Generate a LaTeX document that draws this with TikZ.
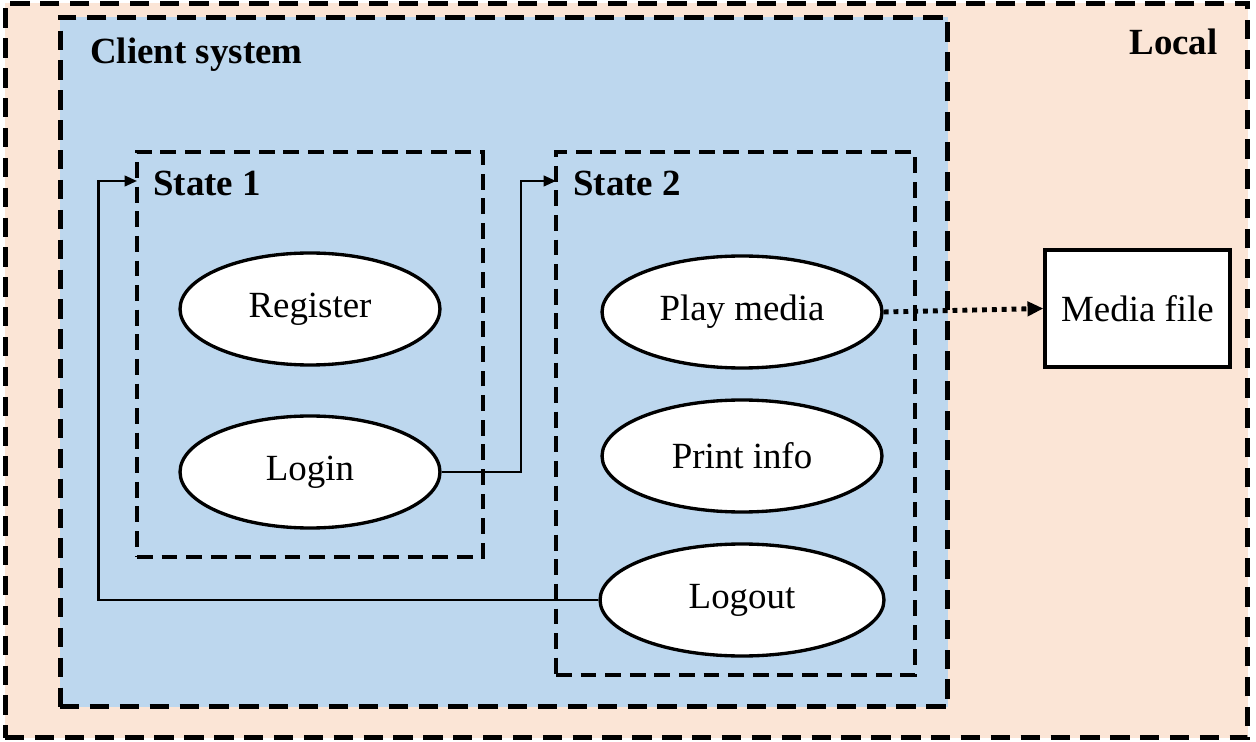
\documentclass[tikz,border=0pt]{standalone}
\usepackage{fontspec}
\setmainfont{Liberation Serif}
\usepackage{tikz}
\usetikzlibrary{arrows.meta,shapes,positioning}

\definecolor{localfill}{HTML}{FBE5D6}
\definecolor{clientfill}{HTML}{BDD7EE}

\tikzset{
    area/.style={draw,line width=2.9pt,dash pattern=on 11pt off 6pt,inner sep=0pt},
    statebox/.style={draw,line width=2.2pt,dash pattern=on 9pt off 5pt,inner sep=0pt,minimum width=#1},
    usecase/.style={ellipse,draw,line width=1.9pt,fill=white,minimum width=5.2cm,minimum height=2.24cm},
    conn/.style={line width=1.3pt,-{Triangle[length=7pt,width=6pt]}},
    lbl/.style={font=\fontsize{21}{25}\selectfont\bfseries,inner sep=0pt}
}

\begin{document}
\begin{tikzpicture}[x=0.02cm,y=-0.02cm,font=\fontsize{21}{25}\selectfont]

    \useasboundingbox (0,0) rectangle (1256,742);

    \node[area,fill=localfill,minimum width=24.86cm,minimum height=14.7cm] (local) at (626.5,370.5) {};
    \node[area,fill=clientfill,minimum width=17.76cm,minimum height=13.8cm] (client) at (504,362) {};
    \node[statebox=6.92cm,minimum height=8.1cm] (state1) at (310,354.5) {};
    \node[statebox=7.18cm,minimum height=10.46cm] (state2) at (735.5,413.5) {};

    \node[lbl,anchor=east] (locallbl) at (1218,42) {Local};
    \node[lbl,anchor=west] (clientlbl) at (90,55) {Client system};
    \node[lbl,anchor=west] (state1lbl) at (153,183) {State 1};
    \node[lbl,anchor=west] (state2lbl) at (573,183) {State 2};

    \node[usecase] (register) at (310,309) {Register};
    \node[usecase] (login) at (310,472) {Login};
    \node[usecase,minimum width=5.6cm] (play) at (742,312) {Play media};
    \node[usecase,minimum width=5.6cm] (print) at (742,456) {Print info};
    \node[usecase,minimum width=5.68cm] (logout) at (742,600) {Logout};

    \node[draw,line width=1.9pt,fill=white,minimum width=3.7cm,minimum height=2.34cm] (media) at (1137.5,308.5) {Media file};

    \coordinate (in1) at (137,181);
    \coordinate (in2) at (556,181);

    \draw[conn] (login.east) -- ++(79,0) |- (in2);
    \draw[conn] (logout.west) -- ++(-500,0) |- (in1);
    \draw[line width=2.8pt,dash pattern=on 2.8pt off 2.8pt,-{Triangle[length=9pt,width=8pt]}] (play.east) -- (media.west);

\end{tikzpicture}
\end{document}
